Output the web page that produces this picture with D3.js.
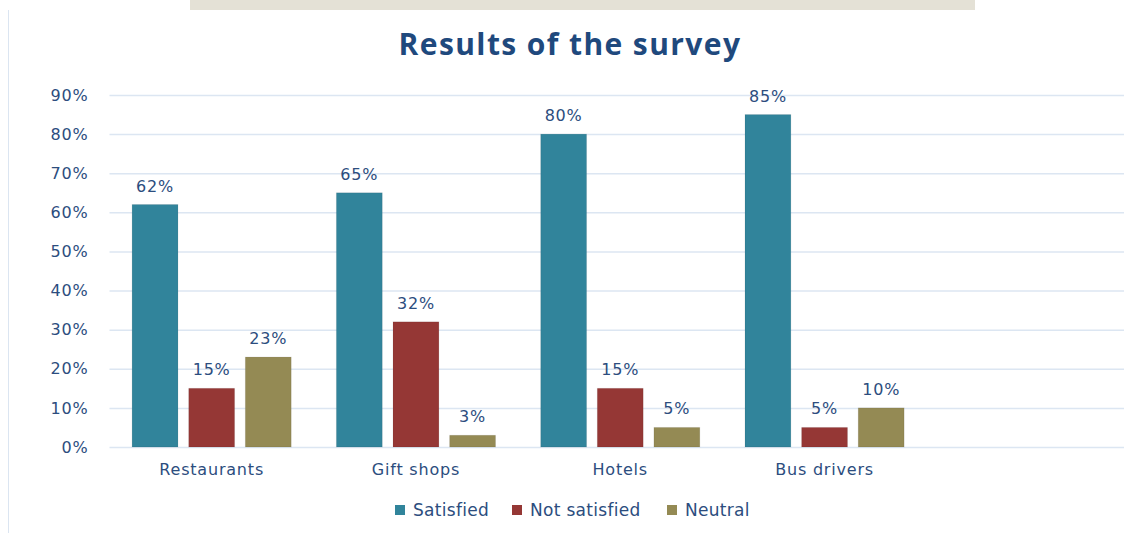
<!DOCTYPE html>
<html>
<head>
<meta charset="utf-8">
<script src="https://cdn.jsdelivr.net/npm/d3@7"></script>
<style>
  body { margin: 0; background: #fff; }
  svg { display: block; }
</style>
</head>
<body>
<div id="graph"></div>
<script>
var categories = ['Restaurants', 'Gift shops', 'Hotels', 'Bus drivers']
var seriesNames = ['Satisfied', 'Not satisfied', 'Neutral']
var satisfied = [62, 65, 80, 85]
var notSatisfied = [15, 32, 15, 5]
var neutral = [23, 3, 5, 10]
var yTicks = [0, 10, 20, 30, 40, 50, 60, 70, 80, 90]
var colors = ['#31849b', '#953735', '#948a54']

var W = 1124, H = 533
var margin = {left: 109.5, top: 95, bottom: 86}
var step = 204.3
var plotBottom = H - margin.bottom

var svg = d3.select('#graph').append('svg').attr('width', W).attr('height', H)

// scan artefacts of the source picture: band at the top, left frame edge
svg.append('rect').attr('x', 190).attr('y', 0).attr('width', 785).attr('height', 10).attr('fill', '#e4e1d6')
svg.append('line').attr('x1', 8.5).attr('x2', 8.5).attr('y1', 10).attr('y2', H).attr('stroke', '#dbe5f1')

var rows = categories.map((c, i) => ({cat: c, vals: [satisfied[i], notSatisfied[i], neutral[i]]}))

var x = d3.scaleBand().domain(categories).range([margin.left, margin.left + step * categories.length])
var x1 = d3.scaleBand().domain(seriesNames).range([22.6, step - 22.6]).paddingInner(0.19)
var y = d3.scaleLinear().domain([0, 90]).range([plotBottom, margin.top])

var textCol = '#2c4d7e'
var font = 'DejaVu Sans, Verdana, sans-serif'

// gridlines
svg.append('g').selectAll('line').data(yTicks).join('line')
  .attr('x1', margin.left).attr('x2', W)
  .attr('y1', d => y(d) + .5).attr('y2', d => y(d) + .5)
  .attr('stroke', '#dce6f2').attr('stroke-width', 1.5)

// y axis labels
var yAxis = d3.axisLeft(y).tickValues(yTicks).tickFormat(d => d + '%').tickSize(0).tickPadding(21)
var ya = svg.append('g').attr('transform', `translate(${margin.left},0)`).call(yAxis)
ya.select('.domain').remove()
ya.selectAll('text').attr('font-family', font).attr('font-size', 16).attr('letter-spacing', 0.8).attr('fill', textCol)

// x axis labels
var xAxis = d3.axisBottom(x).tickSize(0).tickPadding(17)
var xa = svg.append('g').attr('transform', `translate(0,${plotBottom})`).call(xAxis)
xa.select('.domain').remove()
xa.selectAll('text').attr('font-family', font).attr('font-size', 16).attr('letter-spacing', 0.8).attr('fill', textCol)

// bars
var g = svg.append('g').selectAll('g').data(rows).join('g')
  .attr('transform', d => `translate(${x(d.cat)},0)`)

g.selectAll('rect').data(d => d.vals.map((v, i) => ({v, s: seriesNames[i], i}))).join('rect')
  .attr('x', d => x1(d.s))
  .attr('y', d => y(d.v))
  .attr('width', x1.bandwidth())
  .attr('height', d => plotBottom - y(d.v))
  .attr('fill', d => colors[d.i])
  .attr('stroke', 'rgba(0,0,0,0.08)')

g.selectAll('text').data(d => d.vals.map((v, i) => ({v, s: seriesNames[i]}))).join('text')
  .attr('x', d => x1(d.s) + x1.bandwidth() / 2)
  .attr('y', d => y(d.v) - 13)
  .attr('text-anchor', 'middle')
  .attr('font-family', font).attr('font-size', 16).attr('letter-spacing', 0.8).attr('fill', textCol)
  .text(d => d.v + '%')

// title
svg.append('text')
  .attr('x', 570).attr('y', 55).attr('text-anchor', 'middle')
  .attr('font-family', 'Open Sans, sans-serif').attr('font-weight', 700).attr('font-size', 30)
  .attr('letter-spacing', 1.4)
  .attr('fill', '#1f497d')
  .text('Results of the survey')

// legend
var legendX = [395, 512, 667]
var lg = svg.append('g').selectAll('g').data(seriesNames).join('g')
  .attr('transform', (d, i) => `translate(${legendX[i]},510)`)
lg.append('rect').attr('x', 0).attr('y', -5).attr('width', 10).attr('height', 10)
  .attr('fill', (d, i) => colors[i])
lg.append('text').attr('x', 18).attr('y', 6)
  .attr('font-family', font).attr('font-size', 17).attr('letter-spacing', 0.3).attr('fill', textCol)
  .text(d => d)
</script>
</body>
</html>
